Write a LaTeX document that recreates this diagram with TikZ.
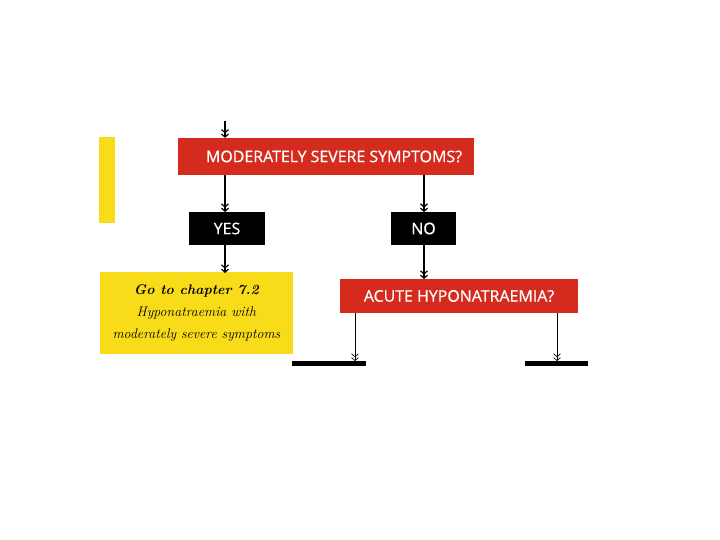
\documentclass[tikz,border=0pt]{standalone}
\usepackage{fontspec}
\setsansfont{Open Sans}
\newfontfamily\semib[FakeBold=0.7]{Open Sans}
\usetikzlibrary{arrows.meta}
\definecolor{redbox}{HTML}{D42B1E}
\definecolor{yelbox}{HTML}{F8DC1A}
\tikzset{
  redq/.style={fill=redbox, draw=none, text=white, font=\semib\fontsize{16}{18}\selectfont, inner sep=0pt},
  blk/.style={fill=black, draw=none, text=white, font=\semib\fontsize{16}{18}\selectfont, inner sep=0pt},
  yel/.style={fill=yelbox, draw=none, inner sep=0pt},
  conn/.style={line width=1.2pt, -{Straight Barb[length=3pt,width=7pt]Straight Barb[length=3pt,width=7pt]}},
  thinconn/.style={line width=0.7pt, -{Straight Barb[length=3pt,width=7pt]Straight Barb[length=3pt,width=7pt]}},
  bar/.style={fill=black, draw=none}
}
\begin{document}
\begin{tikzpicture}[x=1bp,y=-1bp]
\useasboundingbox (0,0) rectangle (720,540);
% left yellow strip
\fill[yelbox] (99,137) rectangle (115,223);
% boxes
\node[redq, minimum width=296bp, minimum height=37bp] (q1) at (326,156.5) {\hspace*{16bp}MODERATELY SEVERE SYMPTOMS?};
\node[blk, minimum width=76bp, minimum height=33bp] (yes) at (227,228.5) {YES};
\node[blk, minimum width=65bp, minimum height=33bp] (no) at (423.5,228.5) {NO};
\node[yel, minimum width=193bp, minimum height=82bp, align=center, font=\fontsize{14}{22}\selectfont] (goto) at (196.5,313)
  {\textbf{\textit{Go to chapter 7.2}}\\\textit{Hyponatraemia with}\\\textit{moderately severe symptoms}};
\node[redq, minimum width=238bp, minimum height=34bp] (q2) at (459,296) {ACUTE HYPONATRAEMIA?};
% bars
\fill[bar] (292,361) rectangle (366,365.5);
\fill[bar] (525,361) rectangle (588,365.5);
\coordinate (top) at (225,121);
\coordinate (b1) at (355,361);
\coordinate (b2) at (557,361);
% connectors
\draw[conn] (top) -- (top |- q1.north);
\draw[conn] (225,175) -- (225,212);
\draw[conn] (424,175) -- (424,212);
\draw[conn] (225,245) -- (225,273);
\draw[conn] (424,245) -- (424,279);
\draw[thinconn] (355,313) -- (b1);
\draw[thinconn] (557,313) -- (b2);
\end{tikzpicture}
\end{document}
